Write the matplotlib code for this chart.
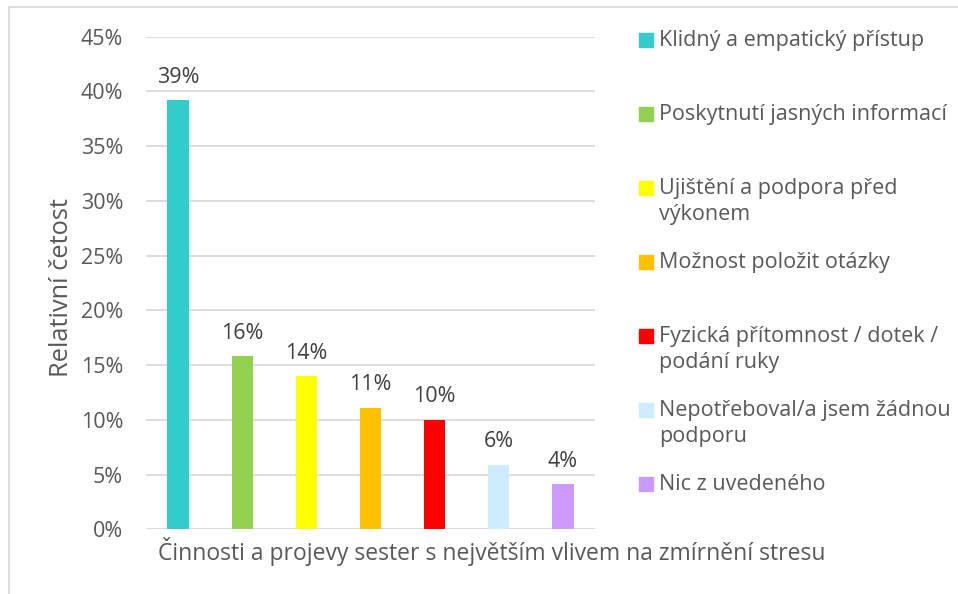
import matplotlib.pyplot as plt
from matplotlib.patches import Rectangle
from matplotlib.lines import Line2D

plt.rcParams['font.family'] = ['Open Sans', 'DejaVu Sans']

# data
categories = ['Klidný a empatický přístup',
              'Poskytnutí jasných informací',
              'Ujištění a podpora před\nvýkonem',
              'Možnost položit otázky',
              'Fyzická přítomnost / dotek /\npodání ruky',
              'Nepotřeboval/a jsem žádnou\npodporu',
              'Nic z uvedeného']
values = [39.2, 15.8, 14.0, 11.1, 10.0, 5.9, 4.1]
labels = ['39%', '16%', '14%', '11%', '10%', '6%', '4%']
colors = ['#33CCCC', '#92D050', '#FFFF00', '#FFC000', '#FF0000', '#CCECFF', '#CC99FF']
yticks = [0, 5, 10, 15, 20, 25, 30, 35, 40, 45]

W, H = 958, 594
fig = plt.figure(figsize=(W / 100, H / 100), dpi=100)

# axes in pixel coords
ax_l, ax_r, ax_t, ax_b = 146, 595, 36.7, 529.3
ax = fig.add_axes([ax_l / W, 1 - ax_b / H, (ax_r - ax_l) / W, (ax_b - ax_t) / H])

x = list(range(len(values)))
ax.bar(x, values, width=0.33, color=colors, zorder=3)
for xi, v, lab in zip(x, values, labels):
    ax.annotate(lab, (xi, v), xytext=(0, 9), textcoords='offset points',
                ha='center', va='bottom', fontsize=15.5, color='#404040')

ax.set_xlim(-0.5, len(values) - 0.5)
ax.set_ylim(0, 45)
ax.set_yticks(yticks)
ax.set_yticklabels([f'{t}%' for t in yticks], fontsize=15.5, color='#595959')
ax.set_xticks([])
ax.tick_params(axis='y', length=0, pad=16.5)
ax.grid(axis='y', color='#d9d9d9', linewidth=1.3, zorder=0)
for s in ax.spines.values():
    s.set_visible(False)
ax.set_ylabel('Relativní četost', fontsize=18.3, color='#595959')
ax.yaxis.set_label_coords(-(146 - 74) / (ax_r - ax_l), 0.49)

fig.text(492 / W, 1 - 551 / H, 'Činnosti a projevy sester s největším vlivem na zmírnění stresu',
         ha='center', va='center', fontsize=16.5, color='#595959')

# legend drawn by hand
leg_y0, leg_dy = 40, 74
for i, (cat, c) in enumerate(zip(categories, colors)):
    yc = leg_y0 + i * leg_dy
    fig.patches.append(Rectangle((639 / W, 1 - (yc + 7) / H), 14 / W, 14 / H,
                                 transform=fig.transFigure, color=c, figure=fig))
    fig.text(659 / W, 1 - (yc - 10) / H, cat, ha='left', va='top', fontsize=15.5,
             color='#595959', linespacing=1.3)

# chart border (left and top)
fig.lines.append(Line2D([8.5 / W, 8.5 / W], [0, 1 - 7 / H], transform=fig.transFigure,
                        color='#d9d9d9', linewidth=1.2))
fig.lines.append(Line2D([8.5 / W, 1], [1 - 7 / H, 1 - 7 / H], transform=fig.transFigure,
                        color='#d9d9d9', linewidth=1.2))

fig.savefig('out.png', dpi=100)
